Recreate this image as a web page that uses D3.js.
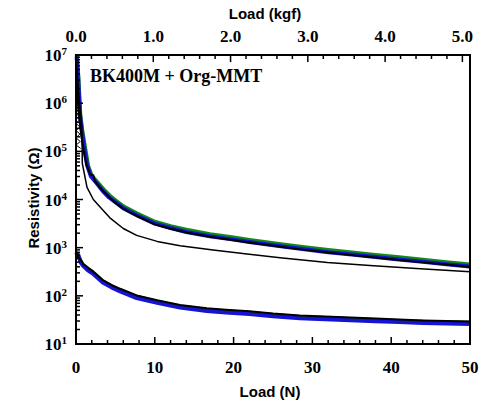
<!DOCTYPE html>
<html>
<head>
<meta charset="utf-8">
<script src="https://cdn.jsdelivr.net/npm/d3@7"></script>
<style>
  body { margin: 0; background: #fff; }
  svg { display: block; }
</style>
</head>
<body>
<svg id="chart" width="481" height="405"></svg>
<script>
// Data: [load N, resistivity Ohm]
let upperGreen = [[0.1,1e7],[0.3,3.5e6],[0.45,1.15e6],[0.55,5.6e5],[0.8,2.7e5],[1.15,1.2e5],[1.55,4.9e4],[2.0,3.1e4],[2.7,2.3e4],[3.5,1.63e4],[4.3,1.2e4],[5.0,9600],[6.0,7200],[7.7,5150],[10,3450],[12,2800],[14,2350],[17,1900],[20,1620],[22,1450],[26,1180],[29,1020],[32,890],[35,795],[38,705],[41,630],[44,560],[47,500],[50,445]]
let upperBlue = [[0.08,9e6],[0.25,4e6],[0.4,1.3e6],[0.5,6e5],[0.7,2.9e5],[1.0,1.3e5],[1.4,5.2e4],[1.9,3.0e4],[2.6,2.2e4],[3.4,1.5e4],[4.2,1.1e4],[5.0,8800],[6.0,6600],[7.7,4700],[10,3150],[12,2560],[14,2120],[17,1730],[20,1470],[22,1310],[26,1070],[29,925],[32,805],[35,720],[38,640],[41,570],[44,510],[47,455],[50,405]]
let upperBlack = [[0.05,8e6],[0.15,2e6],[0.3,8e5],[0.5,4e5],[0.7,2e5],[1.0,1e5],[1.3,5.5e4],[1.8,3.3e4],[2.2,3.2e4],[2.4,2.4e4],[3.0,1.8e4],[4.3,1.08e4],[5.0,8500],[6.0,6400],[7.7,4550],[10,3050],[12,2480],[14,2060],[17,1690],[20,1430],[22,1280],[26,1040],[29,900],[32,790],[35,700],[38,625],[41,555],[44,495],[47,445],[50,395]]
let lowBlackSep = [[0.1,5e6],[0.4,1.2e6],[0.75,3.2e5],[0.8,5.6e4],[1.4,1.78e4],[2.2,1e4],[3.4,6030],[4.3,4170],[6.0,2500],[7.7,1800],[10.3,1350],[13.2,1100],[17.4,890],[21.7,741],[25.9,617],[31.9,490],[37.3,427],[43.7,363],[50,316]]
let startComb = [[0,1e7],[0.3,9e6],[0,8e6],[0.3,7e6],[0,6e6],[0.3,5e6],[0,4.2e6],[0.3,3.6e6],[0,3e6],[0.35,2.5e6],[0,2.1e6],[0.35,1.8e6],[0,1.5e6],[0.4,1.3e6],[0,1.1e6],[0.4,9e5],[0,7.5e5],[0.45,6.3e5],[0,5.3e5],[0.45,4.5e5],[0,3.8e5],[0.5,3.2e5],[0,2.7e5],[0.5,2.3e5],[0,1.9e5],[0.55,1.6e5],[0,1.35e5],[0.6,1.15e5]]
let lowerGreen = [[0,794],[0.3,661],[0.6,525],[0.9,437],[1.5,363],[2.2,302],[3.4,200],[4.5,158],[5.6,132],[7.7,95.5],[10.3,75.9],[13.2,60.3],[16.6,51.3],[19,47.9],[22,44.7],[25,39.8],[28.4,36.3],[31.6,34.7],[34.8,33.1],[38,31.6],[41,30.2],[44,28.8],[47,28.2],[50,27.5]]
let lowerBlue = [[0,740],[0.3,700],[0.6,490],[0.9,420],[1.5,340],[2.2,285],[3.4,190],[4.5,150],[5.6,124],[7.7,90],[10.3,71.5],[13.2,57],[16.6,48.5],[19,45],[22,42],[25,37.5],[28.4,34.3],[31.6,32.6],[34.8,31.2],[38,29.8],[41,28.5],[44,27.2],[47,26.6],[50,26]]
let lowerBlack = [[0,850],[0.3,640],[0.6,560],[0.9,460],[1.5,385],[2.2,318],[3.4,212],[4.5,168],[5.6,140],[7.7,102],[10.3,81],[13.2,64.5],[16.6,55],[19,51.5],[22,48],[25,42.8],[28.4,39],[31.6,37.2],[34.8,35.5],[38,33.8],[41,32.4],[44,30.9],[47,30.2],[50,29.4]]

let xTicksN = [0, 10, 20, 30, 40, 50]
let xTicksKgf = [0, 1, 2, 3, 4, 5]
let yExps = [1, 2, 3, 4, 5, 6, 7]

let svg = d3.select('#chart')
let pLeft = 76, pRight = 470, pTop = 55, pBottom = 344

let x = d3.scaleLinear().domain([0, 50]).range([pLeft, pRight])
let xk = d3.scaleLinear().domain([0, 50 / 9.80665]).range([pLeft, pRight])
let y = d3.scaleLog().domain([10, 1e7]).range([pBottom, pTop])

let serif = '"Liberation Serif", "Times New Roman", serif'
let sans = '"Liberation Sans", Arial, sans-serif'

// series
let line = d3.line().x(d => x(d[0])).y(d => y(d[1]))
function drawSeries(data, color, width) {
    svg.append('path')
        .attr('d', line(data))
        .attr('fill', 'none')
        .attr('stroke', color)
        .attr('stroke-width', width)
        .attr('stroke-linejoin', 'round')
}
drawSeries(startComb, '#000', 1)
drawSeries(upperGreen, '#138a13', 4)
drawSeries(upperBlue, '#1414d2', 4)
drawSeries(upperBlack, '#000', 2)
drawSeries(lowBlackSep, '#000', 1.5)
drawSeries(lowerGreen, '#138a13', 4)
drawSeries(lowerBlue, '#1414d2', 4)
drawSeries(lowerBlack, '#000', 2)

// ticks (inward)
let g = svg.append('g').attr('stroke', '#000').attr('stroke-width', 1.5)
d3.range(0, 51, 2).forEach(v => {
    let len = v % 10 === 0 ? 7 : 4
    g.append('line').attr('x1', x(v)).attr('x2', x(v)).attr('y1', pBottom).attr('y2', pBottom - len)
})
d3.range(0, 5.01, 0.2).forEach(v => {
    let len = Math.abs(v - Math.round(v)) < 1e-6 ? 7 : 4
    g.append('line').attr('x1', xk(v)).attr('x2', xk(v)).attr('y1', pTop).attr('y2', pTop + len)
})
yExps.forEach(e => {
    g.append('line').attr('x1', pLeft).attr('x2', pLeft + 7).attr('y1', y(10 ** e)).attr('y2', y(10 ** e))
    if (e < 7) {
        d3.range(2, 10).forEach(m => {
            g.append('line').attr('x1', pLeft).attr('x2', pLeft + 4)
                .attr('y1', y(m * 10 ** e)).attr('y2', y(m * 10 ** e))
        })
    }
})

// frame
svg.append('rect')
    .attr('x', pLeft).attr('y', pTop)
    .attr('width', pRight - pLeft).attr('height', pBottom - pTop)
    .attr('fill', 'none').attr('stroke', '#000').attr('stroke-width', 2)

// tick labels
svg.selectAll('.xb').data(xTicksN).join('text')
    .attr('x', d => x(d)).attr('y', 373)
    .attr('text-anchor', 'middle')
    .attr('font-family', serif).attr('font-weight', 'bold').attr('font-size', 17)
    .text(d => d)

svg.selectAll('.xt').data(xTicksKgf).join('text')
    .attr('x', d => xk(d)).attr('y', 42)
    .attr('text-anchor', 'middle')
    .attr('font-family', serif).attr('font-weight', 'bold').attr('font-size', 17)
    .text(d => d3.format('.1f')(d))

yExps.forEach(e => {
    let t = svg.append('text')
        .attr('x', 67).attr('y', y(10 ** e) + 6)
        .attr('text-anchor', 'end')
        .attr('font-family', serif).attr('font-weight', 'bold').attr('font-size', 17)
    t.append('tspan').text('10')
    t.append('tspan').attr('font-size', 11).attr('dy', -6).text(e)
})

// titles
svg.append('text')
    .attr('x', 265).attr('y', 19).attr('text-anchor', 'middle')
    .attr('font-family', sans).attr('font-weight', 'bold').attr('font-size', 15)
    .text('Load (kgf)')
svg.append('text')
    .attr('x', 270).attr('y', 397).attr('text-anchor', 'middle')
    .attr('font-family', sans).attr('font-weight', 'bold').attr('font-size', 15)
    .text('Load (N)')
svg.append('text')
    .attr('transform', 'translate(39,198) rotate(-90)').attr('text-anchor', 'middle')
    .attr('font-family', sans).attr('font-weight', 'bold').attr('font-size', 15)
    .text('Resistivity (Ω)')

svg.append('text')
    .attr('x', 90).attr('y', 82)
    .attr('font-family', serif).attr('font-weight', 'bold').attr('font-size', 18)
    .text('BK400M + Org-MMT')
</script>
</body>
</html>
